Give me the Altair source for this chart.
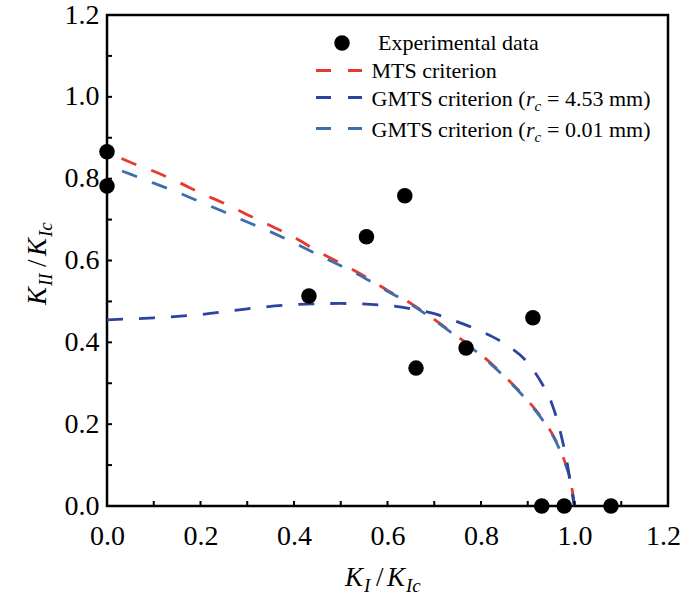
import altair as alt
import pandas as pd

# Experimental fracture loads (normalised)
exp_ki = [0.0, 0.0, 0.432, 0.555, 0.637, 0.661, 0.768, 0.911, 0.930, 0.978, 1.078]
exp_kii = [0.866, 0.782, 0.513, 0.658, 0.758, 0.337, 0.386, 0.460, 0.0, 0.0, 0.0]

# MTS criterion curve
mts_ki = [0.0, 0.05, 0.1, 0.15, 0.2, 0.25, 0.3, 0.35, 0.4, 0.45, 0.5, 0.55, 0.6,
          0.65, 0.7, 0.75, 0.8, 0.85, 0.9, 0.93, 0.96, 0.98, 0.99, 0.997, 1.0]
mts_kii = [0.866, 0.840, 0.818, 0.793, 0.765, 0.740, 0.712, 0.685, 0.657, 0.623,
           0.593, 0.562, 0.527, 0.495, 0.456, 0.414, 0.370, 0.318, 0.258, 0.215,
           0.160, 0.106, 0.070, 0.025, 0.0]

# GMTS criterion, rc = 0.01 mm
g001_ki = [0.0, 0.05, 0.1, 0.15, 0.2, 0.25, 0.3, 0.35, 0.4, 0.45, 0.5, 0.55, 0.6,
           0.65, 0.7, 0.75, 0.8, 0.85, 0.9, 0.93, 0.96, 0.98, 0.99, 0.997, 1.0]
g001_kii = [0.832, 0.811, 0.789, 0.767, 0.743, 0.719, 0.694, 0.670, 0.643, 0.615,
            0.587, 0.558, 0.525, 0.493, 0.454, 0.412, 0.368, 0.316, 0.256, 0.213,
            0.158, 0.104, 0.068, 0.024, 0.0]

# GMTS criterion, rc = 4.53 mm
g453_ki = [0.0, 0.1, 0.2, 0.3, 0.4, 0.5, 0.6, 0.65, 0.7, 0.75, 0.8, 0.85, 0.9,
           0.93, 0.95, 0.97, 0.985, 0.995, 1.0]
g453_kii = [0.455, 0.460, 0.468, 0.482, 0.492, 0.495, 0.490, 0.482, 0.470, 0.450,
            0.427, 0.397, 0.350, 0.300, 0.255, 0.180, 0.100, 0.030, 0.0]

tick_vals = [0.1, 0.2, 0.3, 0.4, 0.5, 0.6, 0.7, 0.8, 0.9, 1.0, 1.1]
label_vals = [0.0, 0.2, 0.4, 0.6, 0.8, 1.0, 1.2]

RED = "#e53a2e"
STEEL = "#3d6fad"
NAVY = "#2c44a0"
FONT = "Liberation Serif"
DASH = [16, 16]

W, H = 561, 491
OX, OY = 107, 15  # plot origin on the page

xscale = alt.Scale(domain=[0, 1.2], nice=False, zero=False)
yscale = alt.Scale(domain=[0, 1.2], nice=False, zero=False)
xaxis = alt.Axis(values=label_vals, format=".1f", ticks=False, domain=False, grid=False,
                 labelFont=FONT, labelFontSize=28, labelColor="black", labelPadding=16,
                 labelOverlap=False, labelFlush=False, title=None,
                 labelOffset={"condition": {"test": "datum.value >= 1.15", "value": -5},
                              "value": 0})
yaxis = alt.Axis(values=label_vals, format=".1f", ticks=False, domain=False, grid=False,
                 labelFont=FONT, labelFontSize=28, labelColor="black", labelPadding=8,
                 labelOverlap=False, labelFlush=False, title=None)


def X(field):
    return alt.X(field, type="quantitative", scale=xscale, axis=xaxis)


def Y(field):
    return alt.Y(field, type="quantitative", scale=yscale, axis=yaxis)


def curve(xs, ys, color, offset):
    df = pd.DataFrame({"ki": xs, "kii": ys})
    return alt.Chart(df).mark_line(
        color=color, strokeWidth=2.8, strokeDash=DASH, strokeDashOffset=offset,
        interpolate="monotone", clip=False
    ).encode(x=X("ki"), y=Y("kii"))


def text(t, x, y, size=22, italic=False, angle=0):
    return alt.Chart(pd.DataFrame({"t": [t]})).mark_text(
        font=FONT, fontSize=size, fontStyle="italic" if italic else "normal",
        align="left", baseline="alphabetic", angle=angle, color="black"
    ).encode(x=alt.value(x - OX), y=alt.value(y - OY), text="t:N")


def key_line(color, y):
    return alt.Chart(pd.DataFrame({"k": [0]})).mark_rule(
        color=color, strokeWidth=2.8, strokeDash=[15, 17]
    ).encode(x=alt.value(316 - OX), x2=alt.value(362 - OX), y=alt.value(y - OY))


red = curve(mts_ki, mts_kii, RED, 16)
steel = curve(g001_ki, g001_kii, STEEL, 16)
navy = curve(g453_ki, g453_kii, NAVY, 0)

points = alt.Chart(pd.DataFrame({"ki": exp_ki, "kii": exp_kii})).mark_circle(
    color="black", size=240, opacity=1, clip=False
).encode(x=X("ki"), y=Y("kii"))

# inward ticks on the bottom and left edges
ticks_df = pd.DataFrame({"v": tick_vals})
xticks = alt.Chart(ticks_df).mark_rule(color="black", strokeWidth=2).encode(
    x=X("v"), y=alt.value(H), y2=alt.value(H - 5))
yticks = alt.Chart(ticks_df).mark_rule(color="black", strokeWidth=2).encode(
    y=Y("v"), x=alt.value(0), x2=alt.value(5))

# legend
key_dot = alt.Chart(pd.DataFrame({"k": [0]})).mark_circle(
    color="black", size=240, opacity=1
).encode(x=alt.value(342 - OX), y=alt.value(43 - OY))

legend = [
    key_dot,
    text("Experimental data", 378, 49.5),
    key_line(RED, 70.5),
    text("MTS criterion", 371.5, 78),
    key_line(NAVY, 97.5),
    text("GMTS criterion (", 371.5, 106),
    text("r", 526, 106, italic=True),
    text("c", 534.5, 111, size=15, italic=True),
    text("= 4.53 mm)", 547, 106),
    key_line(STEEL, 128.5),
    text("GMTS criterion (", 371.5, 137),
    text("r", 526, 137, italic=True),
    text("c", 534.5, 142, size=15, italic=True),
    text("= 0.01 mm)", 547, 137),
]

# axis titles with subscripts
titles = [
    text("K", 345, 586, size=27, italic=True),
    text("I", 364, 592, size=19, italic=True),
    text("/", 376, 586, size=27),
    text("K", 387, 586, size=27, italic=True),
    text("Ic", 406, 592, size=19, italic=True),
    text("K", 46, 305, size=27, italic=True, angle=270),
    text("II", 52, 286, size=19, italic=True, angle=270),
    text("/", 46, 267, size=27, angle=270),
    text("K", 46, 256, size=27, italic=True, angle=270),
    text("Ic", 52, 237, size=19, italic=True, angle=270),
]

chart = alt.layer(
    red, steel, navy, points, xticks, yticks, *legend, *titles
).properties(
    width=W, height=H,
    padding={"left": OX, "top": OY, "right": 681 - OX - W, "bottom": 598 - OY - H},
    autosize=alt.AutoSizeParams(type="none"),
    background="white",
).configure_view(stroke="black", strokeWidth=2.5)

chart.save("out.html", embed_options={"renderer": "svg", "actions": False})
